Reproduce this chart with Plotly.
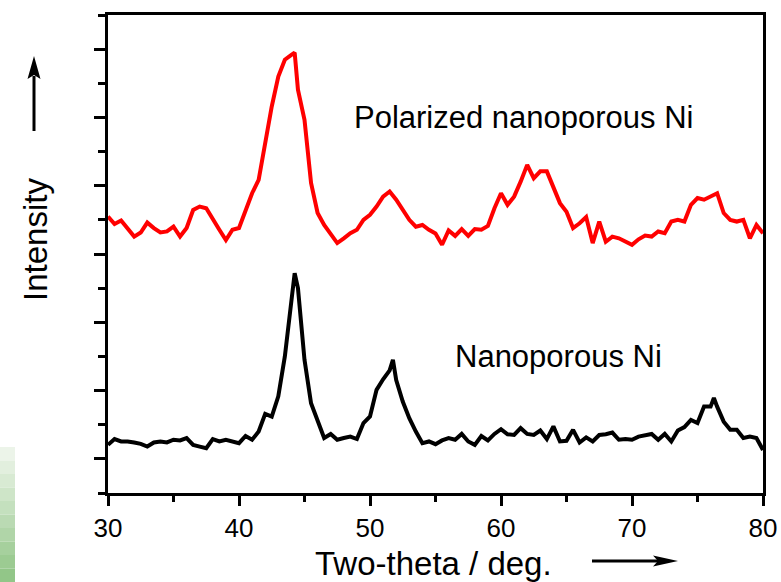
import plotly.graph_objects as go

# XRD scans, intensity in arbitrary counts (polarized trace is offset upward)
polarized_theta = [
    30.0, 30.5, 31.0, 31.5, 32.0, 32.5, 33.0, 33.5, 34.0, 34.5,
    35.0, 35.5, 36.0, 36.5, 37.0, 37.5, 38.0, 38.5, 39.0, 39.5,
    40.0, 40.5, 41.0, 41.5, 42.0, 42.5, 43.0, 43.5, 44.0, 44.25, 44.5,
    45.0, 45.5, 46.0, 46.5, 47.0, 47.5, 48.0, 48.5, 49.0, 49.5,
    50.0, 50.5, 51.0, 51.5, 52.0, 52.5, 53.0, 53.5, 54.0, 54.5,
    55.0, 55.5, 56.0, 56.5, 57.0, 57.5, 58.0, 58.5, 59.0, 59.5,
    60.0, 60.5, 61.0, 61.5, 62.0, 62.5, 63.0, 63.5, 64.0, 64.5,
    65.0, 65.5, 66.0, 66.5, 67.0, 67.5, 68.0, 68.5, 69.0, 69.5,
    70.0, 70.5, 71.0, 71.5, 72.0, 72.5, 73.0, 73.5, 74.0, 74.5,
    75.0, 75.5, 76.0, 76.5, 77.0, 77.5, 78.0, 78.5, 79.0, 79.5,
    80.0,
]
polarized_counts = [
    710, 688, 698, 676, 651, 663, 692, 676, 663, 666,
    680, 651, 676, 729, 739, 734, 705, 671, 641, 671,
    676, 724, 778, 817, 925, 1032, 1120, 1169, 1183, 1190, 1081,
    993, 808, 720, 685, 656, 632, 646, 661, 671, 700,
    715, 739, 768, 783, 759, 729, 700, 680, 685, 671,
    660, 627, 669, 653, 673, 653, 673, 671, 682, 734,
    778, 744, 768, 812, 861, 822, 842, 842, 793, 749,
    724, 676, 690, 708, 632, 695, 636, 651, 646, 636,
    627, 643, 654, 651, 666, 661, 695, 700, 695, 744,
    764, 759, 768, 778, 720, 700, 695, 700, 646, 685,
    661,
]

plain_theta = [
    30.0, 30.5, 31.0, 31.5, 32.0, 32.5, 33.0, 33.5, 34.0, 34.5,
    35.0, 35.5, 36.0, 36.5, 37.0, 37.5, 38.0, 38.5, 39.0, 39.5,
    40.0, 40.5, 41.0, 41.5, 42.0, 42.5, 43.0, 43.5, 44.0, 44.25, 44.5,
    45.0, 45.5, 46.0, 46.5, 47.0, 47.5, 48.0, 48.5, 49.0, 49.5,
    50.0, 50.5, 51.0, 51.5, 51.75, 52.0, 52.5, 53.0, 53.5, 54.0, 54.5,
    55.0, 55.5, 56.0, 56.5, 57.0, 57.5, 58.0, 58.5, 59.0, 59.5,
    60.0, 60.5, 61.0, 61.5, 62.0, 62.5, 63.0, 63.5, 64.0, 64.5,
    65.0, 65.5, 66.0, 66.5, 67.0, 67.5, 68.0, 68.5, 69.0, 69.5,
    70.0, 70.5, 71.0, 71.5, 72.0, 72.5, 73.0, 73.5, 74.0, 74.5,
    75.0, 75.5, 76.0, 76.25, 76.5, 77.0, 77.5, 78.0, 78.5, 79.0, 79.5,
    80.0,
]
plain_counts = [
    41, 58, 51, 51, 48, 44, 36, 48, 51, 48,
    56, 54, 61, 41, 36, 31, 58, 51, 56, 51,
    46, 67, 56, 80, 132, 124, 183, 300, 466, 544, 500,
    290, 163, 109, 61, 73, 56, 61, 65, 58, 105,
    124, 202, 233, 259, 290, 231, 168, 119, 80, 46, 51,
    43, 54, 61, 56, 73, 51, 41, 67, 54, 73,
    87, 72, 70, 90, 73, 70, 83, 58, 95, 51,
    53, 85, 48, 63, 51, 70, 72, 77, 56, 58,
    56, 65, 68, 73, 56, 73, 51, 83, 93, 114,
    105, 153, 153, 178, 153, 109, 85, 85, 61, 65, 61,
    26,
]

x_ticks = [30, 40, 50, 60, 70, 80]
series_labels = ['Polarized nanoporous Ni', 'Nanoporous Ni']

W, H = 781, 582
L, R, T, B = 108, 763, 15, 493
FONT = 'Arial, Liberation Sans, sans-serif'


def px(x):
    return (x - L) / (R - L)


def py(y):
    return (B - y) / (B - T)


fig = go.Figure()
fig.add_trace(go.Scatter(x=plain_theta, y=plain_counts, mode='lines',
                         line=dict(color='black', width=4), showlegend=False))
fig.add_trace(go.Scatter(x=polarized_theta, y=polarized_counts, mode='lines',
                         line=dict(color='#ff0000', width=4), showlegend=False))

shapes = []
# arrows beside the axis titles
shapes.append(dict(type='line', xref='paper', yref='paper', x0=px(34), x1=px(34), y0=py(131), y1=py(76),
                   line=dict(color='black', width=3)))
shapes.append(dict(type='path', xref='paper', yref='paper', fillcolor='black', line=dict(width=0),
                   path='M {},{} L {},{} L {},{} L {},{} Z'.format(px(34), py(56), px(40.5), py(79),
                                                                  px(34), py(75), px(27.5), py(79))))
shapes.append(dict(type='line', xref='paper', yref='paper', x0=px(592), x1=px(660), y0=py(561), y1=py(561),
                   line=dict(color='black', width=3)))
shapes.append(dict(type='path', xref='paper', yref='paper', fillcolor='black', line=dict(width=0),
                   path='M {},{} L {},{} L {},{} L {},{} Z'.format(px(678), py(561), px(653), py(555.5),
                                                                  px(658), py(561), px(653), py(566.5))))
# faint green strip at the bottom-left edge of the slide
n_band = 10
for i in range(n_band):
    f = (i + 1) / n_band
    r = int(246 - 100 * f)
    g = int(250 - 52 * f)
    b = int(244 - 108 * f)
    y0 = 447 + i * (582 - 447) / n_band
    y1 = 447 + (i + 1) * (582 - 447) / n_band
    shapes.append(dict(type='rect', xref='paper', yref='paper', x0=px(0), x1=px(15), y0=py(y1), y1=py(y0),
                       fillcolor='rgb({},{},{})'.format(r, g, b), line=dict(width=0), layer='below'))

annotations = [
    dict(text=series_labels[0], x=48.6, y=1000, xref='x', yref='y', xanchor='left', yanchor='middle',
         showarrow=False, font=dict(size=31, color='black', family=FONT)),
    dict(text=series_labels[1], x=56.3, y=300, xref='x', yref='y', xanchor='left', yanchor='middle',
         showarrow=False, font=dict(size=31, color='black', family=FONT)),
    dict(text='Intensity', x=px(35), y=py(240), xref='paper', yref='paper', xanchor='center', yanchor='middle',
         textangle=-90, showarrow=False, font=dict(size=33, color='black', family=FONT)),
    dict(text='Two-theta / deg.', x=px(313), y=py(563), xref='paper', yref='paper', xanchor='left',
         yanchor='middle', showarrow=False, font=dict(size=33, color='black', family=FONT)),
]

fig.update_layout(
    width=W, height=H,
    margin=dict(l=L, r=W - R, t=T, b=H - B, pad=0, autoexpand=False),
    paper_bgcolor='white', plot_bgcolor='white',
    shapes=shapes, annotations=annotations,
    font=dict(family=FONT, color='black'),
)
fig.update_xaxes(
    range=[30, 80], tickvals=x_ticks, ticktext=[str(v) for v in x_ticks], automargin=False,
    ticks='outside', ticklen=10, tickwidth=3, tickcolor='black',
    minor=dict(dtick=5, tick0=30, ticks='outside', ticklen=6, tickwidth=3, tickcolor='black'),
    showline=True, linewidth=3, linecolor='black', mirror=True,
    showgrid=False, zeroline=False, tickfont=dict(size=26, family=FONT, color='black'),
)
fig.update_yaxes(
    range=[-100, 1300], tick0=0, dtick=200, showticklabels=False, automargin=False,
    ticks='outside', ticklen=11, tickwidth=3, tickcolor='black',
    minor=dict(dtick=100, tick0=0, ticks='outside', ticklen=7, tickwidth=3, tickcolor='black'),
    showline=True, linewidth=3, linecolor='black', mirror=True,
    showgrid=False, zeroline=False,
)

# the page body has a default 8px margin; drop it so the figure sits at the window corner
fig.write_html('out.html', config={'displayModeBar': False},
               post_script="document.body.style.margin='0';")
